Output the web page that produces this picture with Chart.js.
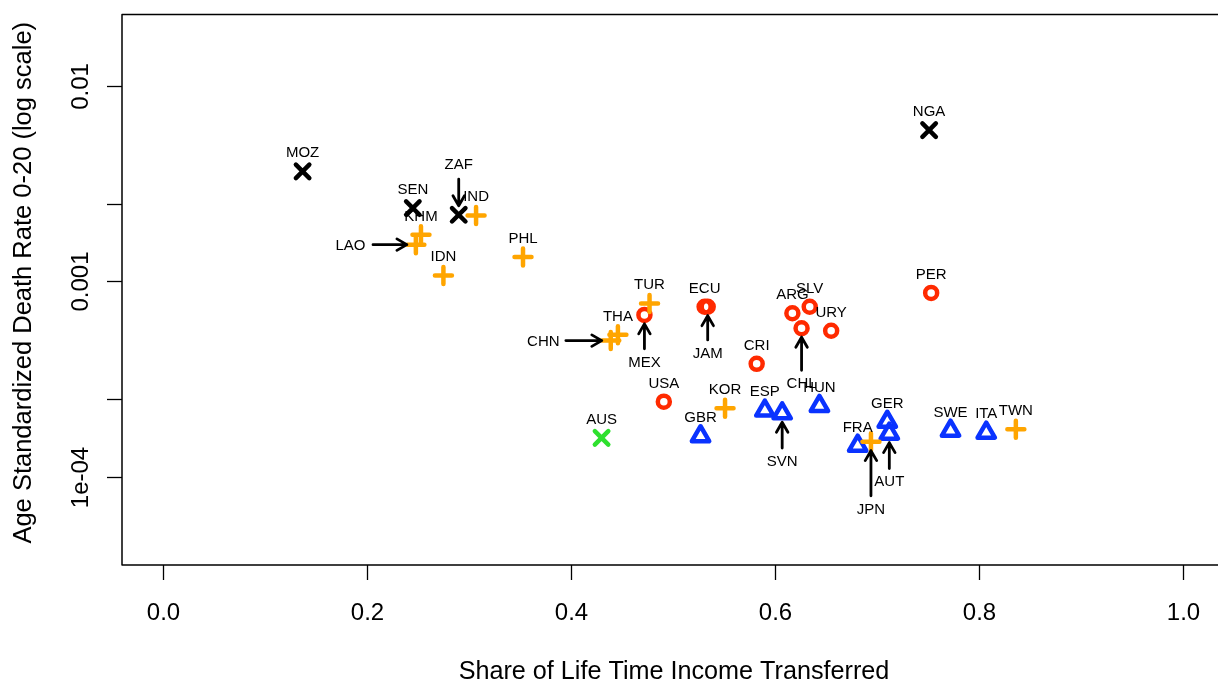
<!DOCTYPE html>
<html><head><meta charset="utf-8">
<script src="https://cdn.jsdelivr.net/npm/chart.js@4"></script>
<style>
html,body{margin:0;padding:0;overflow:hidden;background:#fff;width:1218px;height:684px}
#wrap{position:absolute;left:0;top:0;width:1240px;height:684px}
</style>
</head><body><div id="wrap"><canvas id="c" width="1240" height="684"></canvas></div>
<script>
// ---------- data ----------
const afrCodes = ['MOZ','SEN','ZAF','NGA'];
const afrShare = [0.137, 0.245, 0.290, 0.751];
const afrRate  = [0.00365, 0.00237, 0.00219, 0.00594];

const ausCodes = ['AUS'];
const ausShare = [0.430];
const ausRate  = [0.000158];

const asiaCodes = ['IND','KHM','LAO','IDN','PHL','TUR','THA','CHN','KOR','JPN','TWN'];
const asiaShare = [0.307, 0.253, 0.248, 0.275, 0.353, 0.477, 0.446, 0.439, 0.551, 0.694, 0.836];
const asiaRate  = [0.00217, 0.00173, 0.00154, 0.00107, 0.00133, 0.00077, 0.000532, 0.000497, 0.000224, 0.000151, 0.000175];

const amCodes = ['MEX','ECU','JAM','CRI','ARG','SLV','CHL','URY','PER','USA'];
const amShare = [0.472, 0.531, 0.534, 0.582, 0.617, 0.634, 0.626, 0.655, 0.753, 0.491];
const amRate  = [0.000673, 0.000741, 0.000741, 0.000378, 0.000686, 0.000741, 0.000575, 0.000558, 0.000872, 0.000242];

const euCodes = ['GBR','ESP','SVN','HUN','GER','AUT','FRA','SWE','ITA'];
const euShare = [0.527, 0.590, 0.607, 0.6435, 0.710, 0.712, 0.681, 0.772, 0.807];
const euRate  = [0.000161, 0.000218, 0.000211, 0.000230, 0.000191, 0.000166, 0.000144, 0.000172, 0.000168];

// arrows: tail positions (data units), pointing to the country's marker
const arrowCodes = ['ZAF','LAO','CHN','MEX','JAM','CHL','SVN','AUT','JPN'];
const arrowTailShare = [0.290, 0.206, 0.395, 0.472, 0.534, 0.626, 0.607, 0.712, 0.694];
const arrowTailRate  = [0.00333, 0.00154, 0.000497, 0.000451, 0.000501, 0.000350, 0.000140, 0.000110, 0.0000798];

const xTicks = [0, 0.2, 0.4, 0.6, 0.8, 1.0];
const xTickLabels = ['0.0','0.2','0.4','0.6','0.8','1.0'];
const yTicks = [0.01, 0.0025, 0.001, 0.00025, 0.0001];
const yTickLabels = ['0.01','','0.001','','1e-04'];

const xTitle = 'Share of Life Time Income Transferred';
const yTitle = 'Age Standardized Death Rate 0-20 (log scale)';

// ---------- helpers ----------
function pts(s, r){ return s.map((v,i)=>({x:v, y:r[i]})); }
const FONT = '"Liberation Sans", Arial, Helvetica, sans-serif';

const groups = [
  {codes: afrCodes, share: afrShare, rate: afrRate},
  {codes: ausCodes, share: ausShare, rate: ausRate},
  {codes: asiaCodes, share: asiaShare, rate: asiaRate},
  {codes: amCodes, share: amShare, rate: amRate},
  {codes: euCodes, share: euShare, rate: euRate}
];
const lookup = {};
groups.forEach(g => g.codes.forEach((c,i)=>{ lookup[c] = {x: g.share[i], y: g.rate[i]}; }));

const CANVAS_W = 1240, CANVAS_H = 684;
const AREA = {left:122, top:10, right:1224, bottom:565};

const plotPlugin = {
  id: 'rplot',
  beforeDatasetDraw(chart){ chart.ctx.lineCap='round'; chart.ctx.lineJoin='round'; },
  afterDatasetsDraw(chart){
    const ctx = chart.ctx, xs = chart.scales.x, ys = chart.scales.y;
    ctx.save();
    ctx.lineCap='round'; ctx.lineJoin='round';
    // arrows
    const arrowSet = {};
    arrowCodes.forEach((c,i)=>{
      const p = lookup[c];
      const px = xs.getPixelForValue(p.x), py = ys.getPixelForValue(p.y);
      const tx = xs.getPixelForValue(arrowTailShare[i]), ty = ys.getPixelForValue(arrowTailRate[i]);
      const dx = px-tx, dy = py-ty, len = Math.hypot(dx,dy);
      const ux = dx/len, uy = dy/len;
      const gap = 9;
      const hx = px-ux*gap, hy = py-uy*gap;
      ctx.strokeStyle='#000'; ctx.lineWidth=2.8;
      ctx.beginPath(); ctx.moveTo(tx,ty); ctx.lineTo(hx,hy);
      const ah = 11.5, ang = Math.PI/6;
      const a = Math.atan2(uy,ux);
      ctx.moveTo(hx - ah*Math.cos(a-ang), hy - ah*Math.sin(a-ang));
      ctx.lineTo(hx,hy);
      ctx.lineTo(hx - ah*Math.cos(a+ang), hy - ah*Math.sin(a+ang));
      ctx.stroke();
      let k;
      if (Math.abs(ux) > Math.abs(uy)) k = 22.5; else k = (uy>0 ? 15.5 : 12.5);
      arrowSet[c] = {x: tx-ux*k, y: ty-uy*k};
    });
    // labels
    ctx.fillStyle='#000';
    ctx.font = '15px ' + FONT;
    ctx.textAlign='center'; ctx.textBaseline='alphabetic';
    const capHalf = 15*0.716/2;
    groups.forEach(g => g.codes.forEach((c,i)=>{
      let lx, ly;
      if (arrowSet[c]) { lx = arrowSet[c].x; ly = arrowSet[c].y; }
      else { lx = xs.getPixelForValue(g.share[i]); ly = ys.getPixelForValue(g.rate[i]) - 19.5; }
      ctx.fillText(c, lx, ly + capHalf);
    }));
    ctx.restore();
  },
  afterDraw(chart){
    const ctx = chart.ctx, xs = chart.scales.x, ys = chart.scales.y, a = chart.chartArea;
    ctx.save();
    ctx.strokeStyle='#000'; ctx.lineWidth=1.5; ctx.lineCap='butt';
    ctx.strokeRect(a.left, a.top, a.right-a.left, a.bottom-a.top);
    ctx.lineWidth=1.3;
    ctx.font = '24px ' + FONT; ctx.fillStyle='#000';
    const cap24 = 24*0.716/2;
    // x ticks
    ctx.textAlign='center'; ctx.textBaseline='alphabetic';
    xTicks.forEach((v,i)=>{
      const px = Math.round(xs.getPixelForValue(v))+0.5;
      ctx.beginPath(); ctx.moveTo(px, a.bottom); ctx.lineTo(px, a.bottom+15); ctx.stroke();
      ctx.fillText(xTickLabels[i], px, 611 + cap24);
    });
    // y ticks
    yTicks.forEach((v,i)=>{
      const py = Math.round(ys.getPixelForValue(v))+0.5;
      ctx.beginPath(); ctx.moveTo(a.left, py); ctx.lineTo(a.left-15, py); ctx.stroke();
      if (yTickLabels[i]) {
        ctx.save(); ctx.translate(88, py); ctx.rotate(-Math.PI/2);
        ctx.fillText(yTickLabels[i], 0, 0); ctx.restore();
      }
    });
    // titles
    ctx.font = '25.2px ' + FONT;
    ctx.fillText(xTitle, (a.left+a.right)/2 + 1, 679);
    ctx.save(); ctx.translate(30.5, (a.top+a.bottom)/2 - 7); ctx.rotate(-Math.PI/2);
    ctx.font = '25.5px ' + FONT;
    ctx.fillText(yTitle, 0, 0); ctx.restore();
    ctx.restore();
  }
};

function ds(data, style, color, radius, bw){
  return { data, pointStyle: style, borderColor: color, backgroundColor: 'rgba(0,0,0,0)',
    pointBorderColor: color, pointBackgroundColor: 'rgba(0,0,0,0)', pointRadius: radius,
    pointHoverRadius: radius, pointBorderWidth: bw, pointHoverBorderWidth: bw, showLine: false };
}

new Chart(document.getElementById('c'), {
  type: 'scatter',
  data: { datasets: [
    ds(pts(afrShare, afrRate), 'crossRot', '#000000', 9.5, 4.5),
    ds(pts(ausShare, ausRate), 'crossRot', '#2ee02e', 9.5, 4.5),
    ds(pts(asiaShare, asiaRate), 'cross', '#ffa500', 8.5, 4.5),
    ds(pts(amShare, amRate), 'circle', '#ff2a00', 6, 4.5),
    ds(pts(euShare, euRate), 'triangle', '#0a33ff', 10, 4.5)
  ]},
  options: {
    responsive: false, animation: false, devicePixelRatio: 1, events: [],
    layout: { padding: { left: AREA.left, top: AREA.top, right: CANVAS_W-AREA.right, bottom: CANVAS_H-AREA.bottom } },
    plugins: { legend: {display:false}, tooltip: {enabled:false} },
    scales: {
      x: { type: 'linear', display: false, min: -0.04, max: 1.04 },
      y: { type: 'logarithmic', display: false, min: 3.53e-5, max: 0.0232 }
    }
  },
  plugins: [plotPlugin]
});
</script>
</body></html>
